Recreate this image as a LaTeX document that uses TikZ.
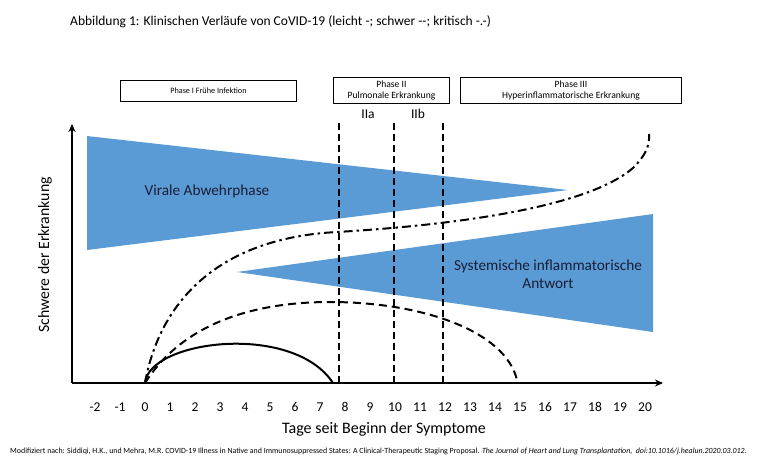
\documentclass[tikz,border=0pt]{standalone}
\usepackage{fontspec}
\setmainfont{Carlito}
\usetikzlibrary{arrows.meta}
\definecolor{officeblue}{RGB}{91,155,213}
\definecolor{navytext}{RGB}{25,30,55}
\begin{document}
\begin{tikzpicture}[x=1pt,y=-1pt,
  phasebox/.style={draw=black,line width=0.9pt,inner sep=0pt,font=\fontsize{9.6}{10.6}\selectfont,align=center,anchor=north west},
  axisline/.style={line width=2.2pt,-{Stealth[length=8pt,width=7pt]}},
  tri/.style={fill=officeblue,draw=none},
  vdash/.style={line width=1.5pt,dash pattern=on 7pt off 4pt},
  tick/.style={font=\fontsize{13.5}{15}\selectfont},
  curvestyle/.style={line width=2pt}
]
\useasboundingbox (0,0) rectangle (757,475);
% title
\node[anchor=west,font=\fontsize{13.5}{15}\selectfont,inner sep=0pt] (title) at (70,22) {Abbildung 1: Klinischen Verläufe von CoVID-19 (leicht -; schwer -{}-; kritisch -.-)};
% phase boxes
\node[phasebox,minimum width=176pt,minimum height=21pt,font=\fontsize{8.2}{9.5}\selectfont] (p1) at (120,80) {Phase I Frühe Infektion};
\node[phasebox,minimum width=116pt,minimum height=26pt] (p2) at (333,77) {Phase II\\Pulmonale Erkrankung};
\node[phasebox,minimum width=221pt,minimum height=26pt] (p3) at (460,77) {Phase III\\Hyperinflammatorische Erkrankung};
% triangles
\fill[tri] (87,136) -- (568,190) -- (87,250) -- cycle;
\fill[tri] (237,272) -- (653,214) -- (653,332) -- cycle;
\node[font=\fontsize{15.3}{18}\selectfont,text=navytext] (viral) at (207,191) {Virale Abwehrphase};
\node[font=\fontsize{15.3}{18}\selectfont,text=navytext,align=center] (sys) at (548,274) {Systemische inflammatorische\\Antwort};
% axes
\coordinate (origin) at (72,383);
\coordinate (ytip) at (72,124);
\coordinate (xtip) at (663,383);
\draw[axisline] (origin) -- (ytip);
\draw[axisline] (origin) -- (xtip);
% vertical dashed lines
\coordinate (v1t) at (339,123); \coordinate (v1b) at (339,383);
\coordinate (v2t) at (394,123); \coordinate (v2b) at (394,383);
\coordinate (v3t) at (443,123); \coordinate (v3b) at (443,383);
\draw[vdash] (v1t) -- (v1b);
\draw[vdash] (v2t) -- (v2b);
\draw[vdash] (v3t) -- (v3b);
\node[font=\fontsize{13.5}{15}\selectfont] (IIa) at (368,114) {IIa};
\node[font=\fontsize{13.5}{15}\selectfont] (IIb) at (418,114) {IIb};
% curves
\coordinate (c0) at (145,383);
\coordinate (s1) at (333,383);
\coordinate (d1) at (330,302);
\coordinate (d2) at (517,380);
\coordinate (k1) at (337,232);
\coordinate (k2) at (633,168);
\coordinate (k3) at (649,134);
\draw[curvestyle] (c0) .. controls (149,340) and (293,322) .. (s1);
\draw[curvestyle,dash pattern=on 8pt off 5pt] (c0) .. controls (185,320) and (260,302) .. (d1) .. controls (420,302) and (505,330) .. (d2);
\draw[curvestyle,dash pattern=on 9pt off 4pt on 2.5pt off 4pt] (c0) .. controls (160,300) and (220,238) .. (k1) .. controls (470,224) and (590,205) .. (k2) .. controls (645,156) and (650,146) .. (k3);
% tick labels
\foreach \d in {-2,-1,0,1,2,3,4,5,6,7,8,9,10,11,12,13,14,15,16,17,18,19,20}{
  \node[tick] (t\d) at ({145+25*\d},407) {\d};
}
% axis labels
\node[font=\fontsize{16}{18}\selectfont] (xlabel) at (384,429) {Tage seit Beginn der Symptome};
\node[font=\fontsize{15.8}{18}\selectfont,rotate=90] (ylabel) at (45,255) {Schwere der Erkrankung};
% citation
\node[anchor=west,font=\fontsize{7.9}{9}\selectfont,inner sep=0pt] (cite) at (10,451) {Modifiziert nach: Siddiqi, H.K., und Mehra, M.R. COVID-19 Illness in Native and Immunosuppressed States: A Clinical-Therapeutic Staging Proposal. \textit{The Journal of Heart and Lung Transplantation, \ doi:10.1016/j.healun.2020.03.012.}};
\end{tikzpicture}
\end{document}
